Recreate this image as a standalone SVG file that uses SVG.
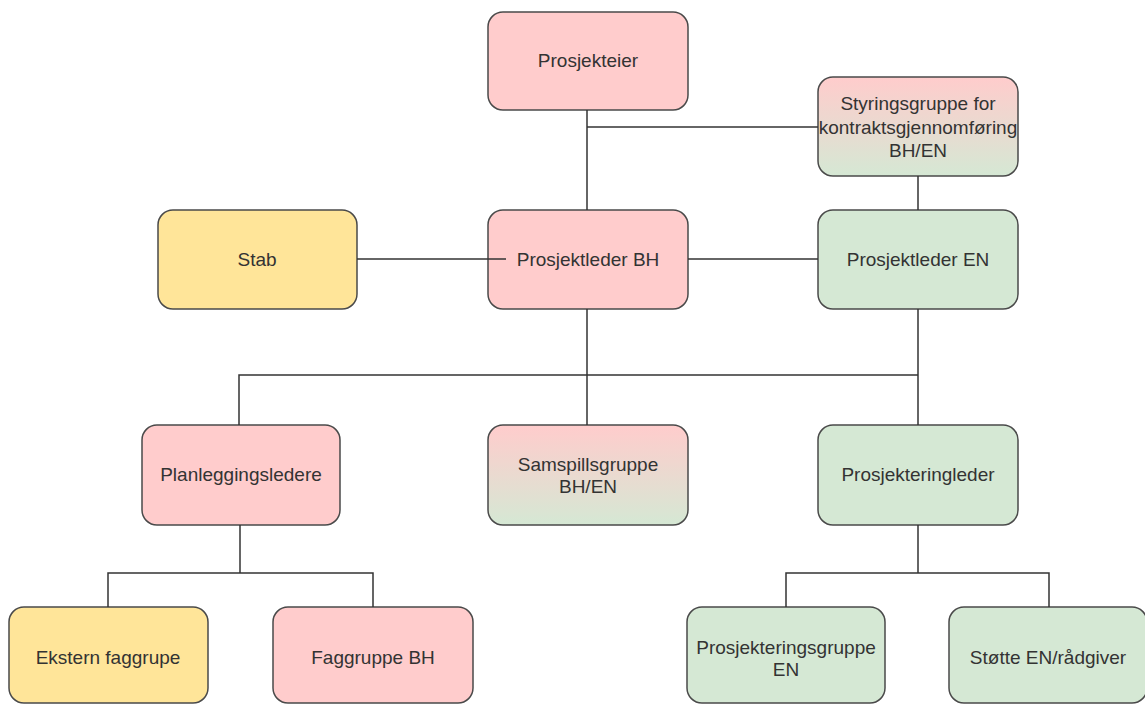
<svg xmlns="http://www.w3.org/2000/svg" width="1145" height="704" viewBox="0 0 1145 704">
<defs>
<linearGradient id="pg" x1="0" y1="0" x2="0" y2="1">
<stop offset="0" stop-color="#ffcccc"/>
<stop offset="1" stop-color="#d5e8d4"/>
</linearGradient>
<style>
.b{stroke:#4a4a4a;stroke-width:1.5}
.pink{fill:#ffcccc}
.yel{fill:#ffe599}
.grn{fill:#d5e8d4}
.grad{fill:url(#pg)}
text{font-family:"Liberation Sans",Arial,sans-serif;font-size:19px;fill:#333333;text-anchor:middle}
.c{fill:none;stroke:#333333;stroke-width:1.5}
</style>
</defs>
<rect width="1145" height="704" fill="#ffffff"/>
<g id="prosjekteier"><rect class="b pink" x="488" y="12" width="200" height="98" rx="15"/><text x="588" y="67">Prosjekteier</text></g>
<g id="styringsgruppe"><rect class="b grad" x="818" y="77" width="200" height="99" rx="15"/><text x="918" y="110">Styringsgruppe for</text><text x="918" y="134">kontraktsgjennomføring</text><text x="918" y="157">BH/EN</text></g>
<g id="stab"><rect class="b yel" x="158" y="210" width="199" height="99" rx="15"/><text x="257" y="266">Stab</text></g>
<g id="prosjektleder-bh"><rect class="b pink" x="488" y="210" width="200" height="99" rx="15"/><text x="588" y="266">Prosjektleder BH</text></g>
<g id="prosjektleder-en"><rect class="b grn" x="818" y="210" width="200" height="99" rx="15"/><text x="918" y="266">Prosjektleder EN</text></g>
<g id="planleggingsledere"><rect class="b pink" x="142" y="425" width="198" height="100" rx="15"/><text x="241" y="481">Planleggingsledere</text></g>
<g id="samspillsgruppe"><rect class="b grad" x="488" y="425" width="200" height="100" rx="15"/><text x="588" y="471">Samspillsgruppe</text><text x="588" y="493">BH/EN</text></g>
<g id="prosjekteringleder"><rect class="b grn" x="818" y="425" width="200" height="100" rx="15"/><text x="918" y="481">Prosjekteringleder</text></g>
<g id="ekstern-faggrupe"><rect class="b yel" x="9" y="607" width="199" height="96" rx="15"/><text x="108" y="664">Ekstern faggrupe</text></g>
<g id="faggruppe-bh"><rect class="b pink" x="273" y="607" width="200" height="96" rx="15"/><text x="373" y="664">Faggruppe BH</text></g>
<g id="prosjekteringsgruppe-en"><rect class="b grn" x="687" y="607" width="198" height="96" rx="15"/><text x="786" y="654">Prosjekteringsgruppe</text><text x="786" y="676">EN</text></g>
<g id="stotte"><rect class="b grn" x="949" y="607" width="198" height="96" rx="15"/><text x="1048" y="664">Støtte EN/rådgiver</text></g>
<g id="connectors">
<path class="c" d="M587 110V210"/>
<path class="c" d="M587 127H818"/>
<path class="c" d="M918 176V210"/>
<path class="c" d="M357 259H506"/>
<path class="c" d="M688 259H818"/>
<path class="c" d="M587 309V425"/>
<path class="c" d="M918 309V425"/>
<path class="c" d="M239 425V375H918"/>
<path class="c" d="M240 525V573"/>
<path class="c" d="M108 607V573H373V607"/>
<path class="c" d="M918 525V573"/>
<path class="c" d="M786 607V573H1049V607"/>
</g>
</svg>
